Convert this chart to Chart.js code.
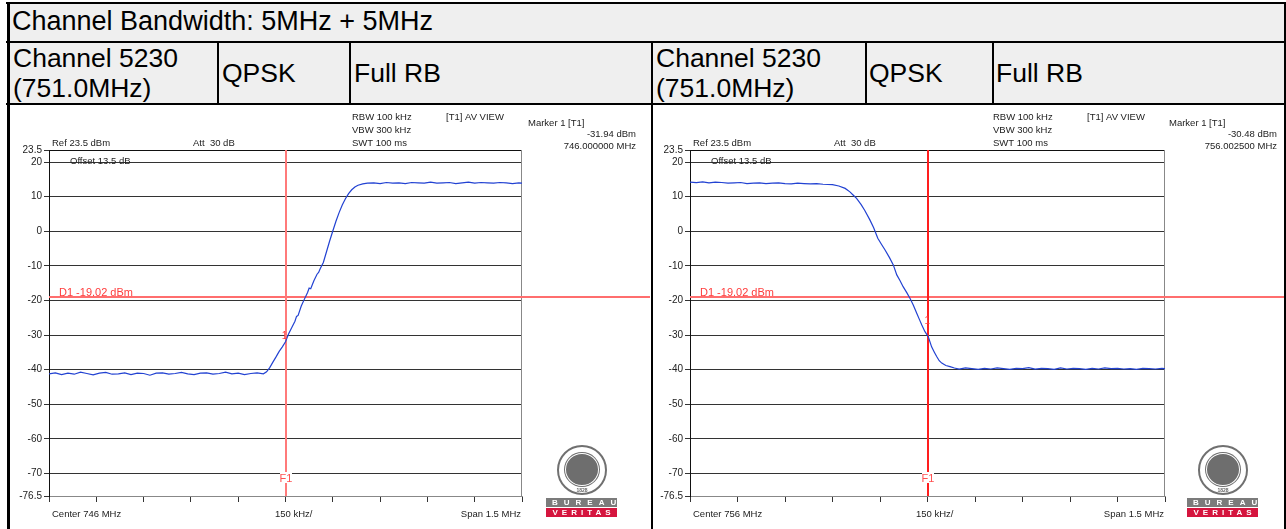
<!DOCTYPE html>
<html>
<head>
<meta charset="utf-8">
<title>Channel Bandwidth: 5MHz + 5MHz</title>
<script src="https://cdn.jsdelivr.net/npm/chart.js@4.4.0/dist/chart.umd.min.js"></script>
<style>
  html, body { margin: 0; padding: 0; background: #fff; }
  body { width: 1286px; height: 529px; position: relative; overflow: hidden;
         font-family: "Liberation Sans", Arial, sans-serif; }
  .abs { position: absolute; }
  .bg { background: #efefef; }
  .ln { position: absolute; background: #000; }
  .big { position: absolute; font-size: 26.5px; line-height: 30px; color: #000; white-space: nowrap; }
  canvas { position: absolute; }
  .logo { position: absolute; width: 71px; height: 73px; }
  .seal { position: absolute; left: 11px; top: 0; width: 46px; height: 46px; border: 2px solid #707070;
          border-radius: 50%; background: #fff; }
  .core { position: absolute; left: 6px; top: 6px; width: 32px; height: 31px; border-radius: 50%;
          background: #6e6e6e; border: 1px solid #fff; box-shadow: 0 0 0 1px #6e6e6e; }
  .yr { position: absolute; left: 0; right: 0; bottom: 0; text-align: center; font: bold 5px "Liberation Sans"; color: #666; }
  .bar { position: absolute; left: 0; width: 71px; height: 9px; font: bold 8px/9px "Liberation Sans"; color: #fff;
         text-align: center; white-space: nowrap; overflow: hidden; }
  .b1 { top: 53px; background: #7b7b7b; letter-spacing: 6px; text-indent: 6px; }
  .b2 { top: 63px; background: #d5153e; letter-spacing: 4px; text-indent: 4px; }
</style>
</head>
<body>
<!-- header table -->
<div class="abs bg" style="left:8px;top:4px;width:1278px;height:37px"></div>
<div class="abs bg" style="left:8px;top:43px;width:1278px;height:60px"></div>
<div class="ln" style="left:6px;top:2px;width:1280px;height:2px"></div>
<div class="ln" style="left:6px;top:41px;width:1280px;height:2px"></div>
<div class="ln" style="left:6px;top:103px;width:1280px;height:2px"></div>
<div class="ln" style="left:7px;top:2px;width:3px;height:527px"></div>
<div class="ln" style="left:1284px;top:2px;width:2px;height:527px"></div>
<div class="ln" style="left:217px;top:41px;width:2px;height:63px"></div>
<div class="ln" style="left:349px;top:41px;width:2px;height:63px"></div>
<div class="ln" style="left:651px;top:41px;width:2px;height:488px"></div>
<div class="ln" style="left:865px;top:41px;width:2px;height:63px"></div>
<div class="ln" style="left:992px;top:41px;width:2px;height:63px"></div>

<div class="big" style="left:12px;top:6px;font-size:27px">Channel Bandwidth: 5MHz + 5MHz</div>
<div class="big" style="left:13px;top:43px">Channel 5230<br>(751.0MHz)</div>
<div class="big" style="left:222px;top:58px">QPSK</div>
<div class="big" style="left:354px;top:58px">Full RB</div>
<div class="big" style="left:656px;top:43px">Channel 5230<br>(751.0MHz)</div>
<div class="big" style="left:869px;top:58px">QPSK</div>
<div class="big" style="left:996px;top:58px">Full RB</div>

<canvas id="left" width="640" height="423" style="left:10px;top:106px"></canvas>
<canvas id="right" width="631" height="423" style="left:653px;top:106px"></canvas>

<div class="logo" style="left:546px;top:445px">
  <div class="seal"><div class="core"></div><span class="yr">1828</span></div>
  <div class="bar b1">BUREAU</div>
  <div class="bar b2">VERITAS</div>
</div>
<div class="logo" style="left:1187px;top:445px">
  <div class="seal"><div class="core"></div><span class="yr">1828</span></div>
  <div class="bar b1">BUREAU</div>
  <div class="bar b2">VERITAS</div>
</div>

<script>
"use strict";

// Axis ticks (dBm on y, kHz offset from centre on x: 150 kHz/div over a 1.5 MHz span)
const yTickValues = [23.5, 20, 10, 0, -10, -20, -30, -40, -50, -60, -70, -76.5];
const xTickValues = [-750, -600, -450, -300, -150, 0, 150, 300, 450, 600, 750];

// Left trace: centre 746 MHz, rising edge
const leftOffsetKHz = [
  -750, -730, -710, -690, -670, -650, -630, -610, -590, -570, -550, -530, -510, -490, -470, -450, -430, -410,
  -390, -370, -350, -330, -310, -290, -270, -250, -230, -210, -190, -170, -150, -130, -110, -90, -70,
  -60, -50, -40, -30, -20, -10, 0, 10, 20, 30, 35, 40, 50, 60, 70, 75, 80, 90, 100, 105, 110, 120, 130, 140, 150,
  160, 170, 180, 190, 200, 210, 220, 230, 245, 260,
  280, 300, 320, 340, 360, 380, 400, 420, 440, 460, 480, 500, 520, 540, 560, 580, 600, 620, 640, 660,
  680, 700, 720, 740, 750
];
const leftLevelDbm = [
  -41.2, -40.9, -41.4, -41.0, -41.3, -40.7, -41.1, -41.5, -41.0, -40.8, -41.3, -41.2, -40.9, -41.4, -41.0, -41.1, -41.6, -41.0,
  -40.9, -41.3, -41.1, -40.8, -41.2, -41.4, -41.0, -40.9, -41.3, -41.1, -40.7, -41.2, -41.0, -41.4, -41.1, -40.9, -41.2,
  -40.6, -39.4, -37.8, -36.3, -34.7, -33.4, -31.94, -29.6, -27.8, -26.0, -24.6, -24.3, -21.6, -19.6, -17.7, -16.4, -16.6, -14.3, -12.4, -11.9, -10.8, -9.0, -5.9, -2.8, 0.1,
  2.9, 5.4, 7.6, 9.4, 10.9, 12.0, 12.8, 13.3, 13.7, 13.9,
  14.0, 13.8, 14.1, 13.9, 14.0, 13.8, 14.1, 14.0, 13.9, 14.2, 13.9, 14.0, 14.1, 13.8, 14.0, 14.2, 13.9, 14.1, 14.0, 13.9,
  14.1, 14.0, 13.8, 14.0, 13.9
];

// Right trace: centre 756 MHz, falling edge
const rightOffsetKHz = [
  -750, -730, -710, -690, -670, -650, -630, -610, -590, -570, -550, -530, -510, -490, -470, -450, -430, -410,
  -390, -370, -350, -330,
  -300, -280, -260, -245, -235, -224, -210, -198, -182, -170, -157, -145, -134, -120, -108, -97, -87, -77,
  -65, -55, -45, -34, -25, -18, -8, 2.5, 13, 22, 29, 37, 45, 58, 71, 85,
  100, 120, 140, 160, 180, 200, 220, 240, 260, 280, 300, 320, 340, 360, 380, 400, 420, 440, 460, 480,
  500, 520, 540, 560, 580, 600, 620, 640, 660, 680, 700, 720, 740, 750
];
const rightLevelDbm = [
  14.2, 14.1, 14.3, 14.0, 14.2, 14.1, 13.9, 14.0, 14.1, 13.8, 13.9, 14.0, 13.8, 13.9, 14.0, 13.8, 13.7, 13.9,
  13.8, 13.7, 13.8, 13.6,
  13.5, 13.1, 12.4, 11.4, 10.5, 9.5, 7.8, 6.0, 3.3, 1.0, -2.0, -3.8, -5.4, -7.6, -9.7, -12.6, -14.2, -16.0,
  -17.8, -19.4, -21.3, -23.7, -25.6, -27.1, -29.0, -30.48, -33.4, -35.0, -36.2, -37.4, -38.1, -38.8, -39.1, -39.5,
  -39.8, -39.5, -39.7, -39.9, -39.6, -39.8, -39.5, -39.7, -39.9, -39.6, -39.7, -39.4, -39.8, -39.6, -39.7, -39.9, -39.5, -39.8, -39.6, -39.7,
  -39.9, -39.6, -39.8, -39.5, -39.7, -39.6, -39.8, -39.7, -39.9, -39.6, -39.7, -39.8, -39.6, -39.7
];

const TRACE = "#2242d2";
const SMALL = '9.5px "Liberation Sans", Arial, sans-serif';

function hline(ctx, x1, x2, y) { ctx.beginPath(); ctx.moveTo(x1, y); ctx.lineTo(x2, y); ctx.stroke(); }
function vline(ctx, x, y1, y2) { ctx.beginPath(); ctx.moveTo(x, y1); ctx.lineTo(x, y2); ctx.stroke(); }

// Analyzer furniture: frame, display line D1, frequency line F1, marker, header/footer texts
const decor = {
  id: "decor",
  beforeDatasetsDraw(chart, _args, o) {
    const { ctx, chartArea: a, scales: { x, y } } = chart;
    ctx.save();
    ctx.lineWidth = 1;
    ctx.strokeStyle = "#111";
    hline(ctx, a.left, a.right, a.top + 0.5);
    ctx.strokeStyle = "#888";
    vline(ctx, a.right - 0.5, a.top, a.bottom);
    ctx.lineWidth = 2;
    const yd = Math.round(y.getPixelForValue(o.d1));
    ctx.strokeStyle = "#ff6e6e";
    hline(ctx, a.left, chart.width, yd);
    const xf = Math.floor(x.getPixelForValue(o.f1)) + 1;
    ctx.strokeStyle = o.lineColor;
    vline(ctx, xf, a.top, a.bottom);
    ctx.restore();
  },
  afterDraw(chart, _args, o) {
    const { ctx, chartArea: a, scales: { x, y } } = chart;
    const L = a.left;
    ctx.save();
    ctx.fillStyle = "#222";
    ctx.font = SMALL;
    ctx.textAlign = "left";
    ctx.fillText("Ref 23.5 dBm", L + 3, 40);
    ctx.fillText("Att  30 dB", L + 144, 40);
    ctx.fillText("Offset 13.5 dB", L + 21, 58);
    ctx.fillText("RBW 100 kHz", L + 303, 14);
    ctx.fillText("VBW 300 kHz", L + 303, 27);
    ctx.fillText("SWT 100 ms", L + 303, 40);
    ctx.fillText("[T1] AV VIEW", L + 397, 14);
    ctx.fillText("Marker 1 [T1]", L + 479, 20);
    ctx.fillText("Center " + o.center + " MHz", L + 3, 411);
    ctx.fillText("150 kHz/", L + 226, 411);
    ctx.textAlign = "right";
    ctx.fillText(o.markerY.toFixed(2) + " dBm", L + 587, 31);
    ctx.fillText(o.markerFreq + " MHz", L + 587, 43);
    ctx.fillText("Span 1.5 MHz", a.right - 1, 411);

    // D1 label
    const yd = Math.round(y.getPixelForValue(o.d1));
    ctx.textAlign = "left";
    ctx.fillStyle = "#ff3c3c";
    ctx.font = '11px "Liberation Sans", Arial, sans-serif';
    ctx.fillText("D1 " + o.d1.toFixed(2) + " dBm", L + 10, yd - 1);

    // marker "1"
    const mx = x.getPixelForValue(o.markerX);
    const my = y.getPixelForValue(o.markerY);
    ctx.textAlign = "center";
    ctx.font = '10px "Liberation Sans", Arial, sans-serif';
    ctx.fillText("1", mx - 1, my + o.markerDy);

    // F1 label with a gap in the line
    const xf = Math.floor(x.getPixelForValue(o.f1)) + 1;
    ctx.fillStyle = "#fff";
    ctx.fillRect(xf - 6, 366, 12, 11);
    ctx.fillStyle = "#ff5050";
    ctx.font = '11px "Liberation Sans", Arial, sans-serif';
    ctx.fillText("F1", xf, 376);
    ctx.restore();
  }
};

function makeChart(id, offsets, levels, info) {
  const pts = offsets.map((v, i) => ({ x: v, y: levels[i] }));
  return new Chart(document.getElementById(id), {
    type: "line",
    data: { datasets: [{ data: pts, borderColor: TRACE, borderWidth: 1.2, pointRadius: 0, tension: 0, fill: false }] },
    options: {
      responsive: false,
      animation: false,
      devicePixelRatio: 1,
      layout: { padding: { top: 44, right: info.padRight, left: 0, bottom: 0 } },
      plugins: { legend: { display: false }, tooltip: { enabled: false }, decor: info },
      scales: {
        x: {
          type: "linear", min: -750, max: 750,
          afterBuildTicks: (s) => { s.ticks = xTickValues.map((v) => ({ value: v })); },
          afterFit: (s) => { s.height = 33; },
          ticks: { display: false, autoSkip: false },
          grid: { drawOnChartArea: false, drawTicks: true, tickLength: 6, tickColor: "#333" },
          border: { display: true, color: "#888" }
        },
        y: {
          type: "linear", min: -76.5, max: 23.5,
          afterBuildTicks: (s) => { s.ticks = yTickValues.map((v) => ({ value: v })); },
          afterFit: (s) => { s.width = info.yWidth; },
          ticks: {
            autoSkip: false, padding: 2, color: "#222",
            font: { family: '"Liberation Sans", Arial, sans-serif', size: 10 },
            callback: (v) => String(v)
          },
          grid: {
            color: (c) => (c.tick && c.tick.value === 23.5 ? "#111" : c.tick && c.tick.value === -76.5 ? "#888" : "#333"),
            tickLength: 5, tickColor: "#333"
          },
          border: { color: "#111" }
        }
      }
    },
    plugins: [decor]
  });
}

makeChart("left", leftOffsetKHz, leftLevelDbm, {
  center: "746", d1: -19.02, f1: 0, markerX: 0, markerY: -31.94, markerFreq: "746.000000",
  markerDy: -3, lineColor: "#ff7a7a", padRight: 128, yWidth: 39
});
makeChart("right", rightOffsetKHz, rightLevelDbm, {
  center: "756", d1: -19.02, f1: 0, markerX: 2.5, markerY: -30.48, markerFreq: "756.002500",
  markerDy: -13, lineColor: "#ff1e1e", padRight: 119, yWidth: 37
});
</script>
</body>
</html>
